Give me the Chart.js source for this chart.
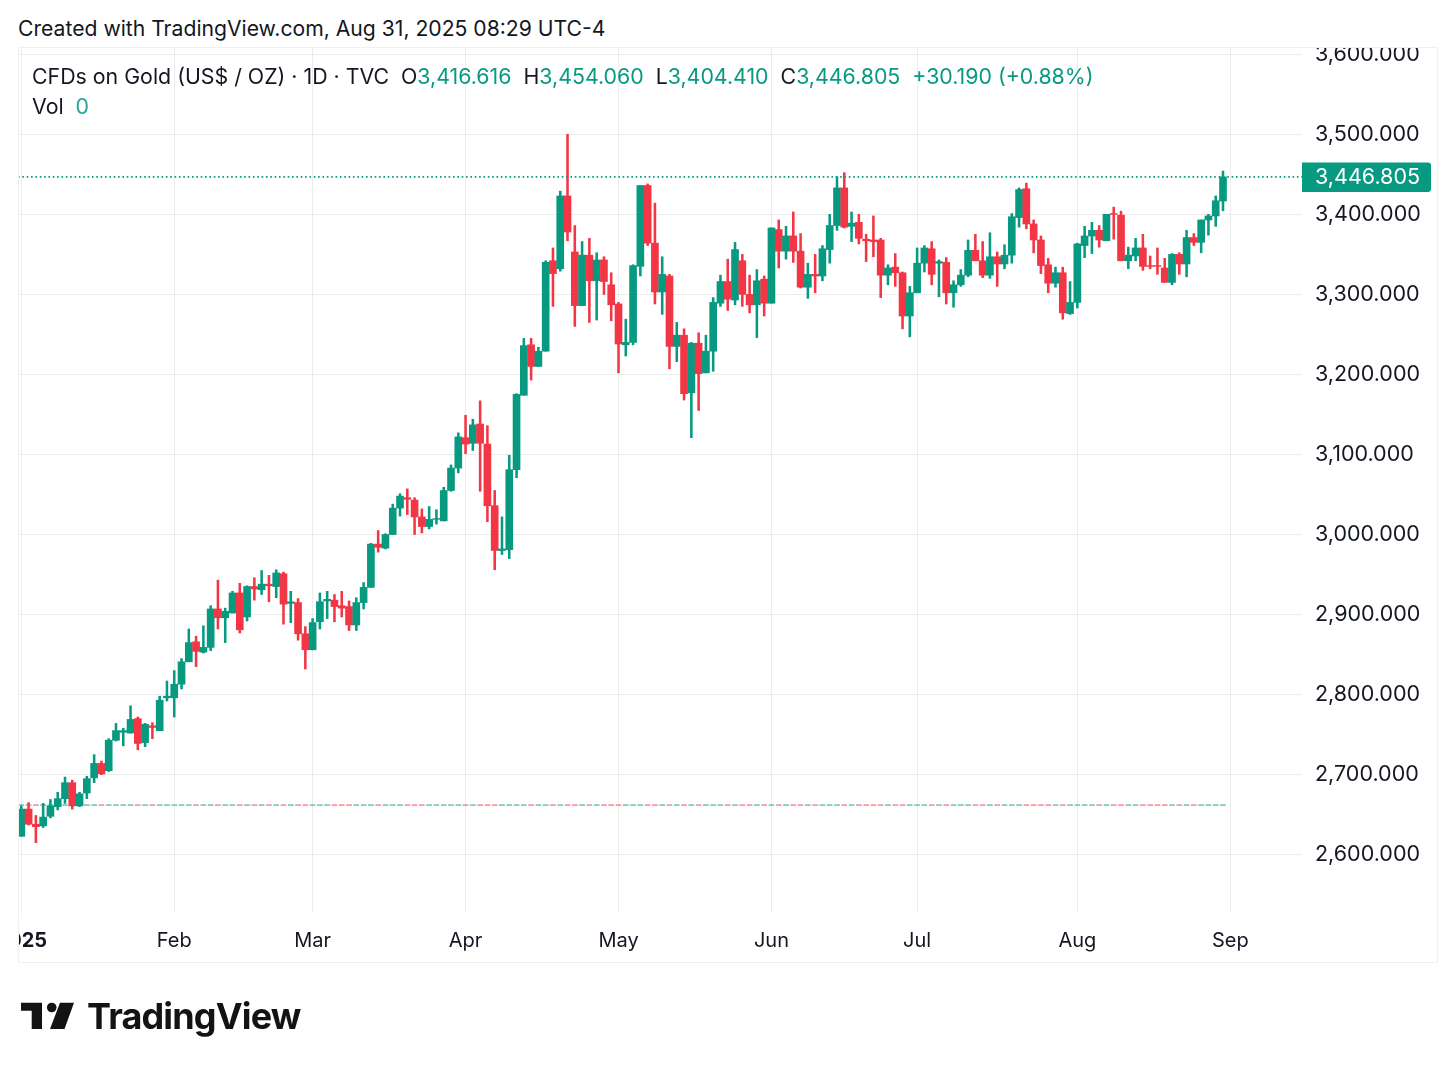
<!DOCTYPE html>
<html><head><meta charset="utf-8">
<script src="https://cdn.jsdelivr.net/npm/chart.js@4/dist/chart.umd.min.js"></script>
<style>
html,body{margin:0;padding:0;background:#fff;width:1456px;height:1070px;overflow:hidden;font-family:Inter,sans-serif;color:#131722}
#c{position:absolute;left:0;top:0}
.t{position:absolute;white-space:pre;line-height:1}
.g{color:#089981}
#maskTop{position:absolute;left:0;top:0;width:1456px;height:47px;background:#fff}
#maskLeft{position:absolute;left:0;top:47px;width:18px;height:960px;background:#fff}
#frame{position:absolute;left:17.5px;top:47px;width:1420px;height:916px;border:1px solid #f0f0f0;box-sizing:border-box;pointer-events:none}
</style></head><body>
<canvas id="c" width="1456" height="1070"></canvas>
<div id="maskTop"></div><div id="maskLeft"></div><div id="frame"></div>
<div class="t" id="created" style="left:18px;top:18px;font-size:21.15px">Created with TradingView.com, Aug 31, 2025 08:29 UTC-4</div>
<div class="t" id="legend" style="left:32px;top:66px;font-size:21.33px">CFDs on Gold (US$ / OZ) · 1D · TVC  O<span class="g">3,416.616</span>  H<span class="g">3,454.060</span>  L<span class="g">3,404.410</span>  C<span class="g">3,446.805</span>  <span class="g">+30.190 (+0.88%)</span></div>
<div class="t" style="left:32px;top:96px;font-size:21.33px">Vol  <span style="color:#26a69a">0</span></div>
<svg style="position:absolute;left:0;top:990px" width="90" height="50" viewBox="0 990 90 50"><path fill="#131313" d="M21 1002.7H42V1029H31.7V1010.7H21Z M60 1002.7H74L64.5 1029H50Z"/><circle cx="51.7" cy="1007.5" r="4.8" fill="#131313"/></svg>
<div class="t" style="left:87px;top:998px;font-size:36px;font-weight:700;letter-spacing:-0.85px;color:#131313">TradingView</div>
<script>
const opens=[2623,2657,2638,2636,2648,2660,2670,2690,2661,2677,2696,2714,2705,2743,2753,2752,2770,2740,2761,2755,2796,2796,2813,2841,2866,2853,2859,2907,2896,2902,2927,2897,2935,2931,2938,2935,2951,2914,2915,2876,2856,2891,2917,2918,2911,2910,2887,2915,2934,2988,2983,3000,3033,3046,3043,3022,3010,3019,3017,3055,3083,3121,3114,3138,3113,3036,2980,2981,3081,3174,3237,3210,3229,3342,3332,3423,3353,3286,3349,3317,3343,3312,3288,3237,3240,3335,3436,3364,3303,3323,3235,3249,3177,3239,3202,3229,3289,3316,3293,3342,3300,3287,3319,3289,3381,3354,3373,3354,3309,3325,3323,3356,3386,3433,3385,3390,3369,3368,3368,3324,3334,3327,3273,3302,3339,3357,3339,3340,3302,3312,3324,3355,3342,3324,3347,3338,3349,3396,3432,3388,3368,3337,3314,3327,3276,3290,3361,3373,3380,3367,3401,3399,3342,3348,3358,3336,3336,3333,3315,3350,3338,3371,3365,3393,3398,3416.616];
const highs=[2661,2665,2649,2664,2669,2678,2697,2693,2678,2698,2725,2717,2745,2764,2758,2786,2772,2764,2765,2798,2817,2830,2845,2882,2873,2886,2911,2943,2908,2929,2939,2936,2946,2955,2949,2956,2953,2929,2920,2885,2895,2927,2929,2925,2929,2917,2921,2940,2989,3005,3001,3038,3051,3057,3046,3032,3035,3031,3059,3087,3127,3149,3144,3167,3136,3055,3022,3099,3176,3245,3245,3234,3342,3358,3429,3500,3386,3366,3370,3352,3347,3327,3290,3269,3337,3436,3438,3414,3347,3325,3265,3257,3240,3252,3249,3296,3324,3344,3365,3350,3324,3331,3323,3383,3393,3385,3403,3376,3339,3350,3361,3400,3447,3452,3403,3400,3375,3398,3370,3337,3351,3328,3310,3358,3361,3366,3343,3346,3317,3331,3368,3375,3366,3377,3353,3362,3401,3433,3439,3393,3373,3345,3334,3334,3316,3364,3385,3390,3386,3400,3409,3404,3359,3370,3375,3348,3358,3345,3351,3352,3380,3376,3393,3400,3423,3454.06];
const lows=[2623,2637,2615,2634,2646,2656,2664,2657,2660,2670,2690,2700,2704,2742,2736,2752,2731,2735,2745,2755,2792,2772,2807,2841,2835,2852,2855,2882,2865,2902,2877,2892,2918,2925,2916,2921,2888,2890,2868,2832,2856,2882,2895,2891,2897,2880,2880,2907,2934,2978,2982,3000,3023,3025,3000,3002,3007,3013,3017,3054,3077,3101,3105,3054,3016,2956,2975,2970,3071,3174,3193,3210,3229,3285,3329,3367,3260,3286,3265,3268,3300,3267,3202,3223,3237,3323,3361,3288,3275,3207,3216,3168,3121,3155,3202,3204,3285,3280,3287,3285,3277,3246,3273,3289,3333,3344,3340,3308,3295,3302,3317,3339,3380,3383,3366,3363,3341,3347,3296,3312,3310,3257,3247,3302,3328,3312,3297,3288,3284,3310,3322,3342,3321,3320,3310,3332,3339,3384,3382,3352,3326,3302,3309,3269,3275,3283,3346,3351,3359,3367,3369,3342,3332,3342,3330,3332,3325,3315,3312,3325,3322,3361,3352,3374,3385,3404.41];
const closes=[2657,2638,2635,2647,2661,2670,2690,2661,2676,2695,2714,2701,2743,2755,2755,2769,2739,2763,2759,2793,2798,2813,2841,2865,2854,2859,2907,2896,2904,2927,2881,2935,2932,2938,2936,2952,2913,2916,2876,2856,2890,2916,2919,2910,2908,2887,2915,2934,2988,2984,3000,3033,3048,3044,3022,3010,3019,3020,3055,3083,3122,3113,3137,3114,3036,2980,2982,3081,3175,3236,3210,3229,3340,3326,3423,3378,3286,3349,3317,3343,3316,3287,3238,3240,3336,3436,3364,3303,3325,3235,3249,3176,3239,3201,3229,3290,3316,3294,3356,3300,3287,3317,3289,3383,3354,3373,3354,3309,3325,3323,3357,3386,3433,3384,3389,3370,3367,3366,3324,3333,3327,3273,3302,3339,3358,3325,3341,3302,3312,3324,3355,3342,3324,3347,3338,3349,3397,3431,3388,3368,3336,3314,3327,3277,3290,3363,3373,3380,3368,3400,3400,3342,3349,3358,3335,3335,3335,3315,3350,3338,3371,3365,3393,3398,3417,3446.805];
const xTickPositions=[0,21,40,61,82,103,123,145,166];
const xTickLabels=['2025','Feb','Mar','Apr','May','Jun','Jul','Aug','Sep'];
const yTickValues=[2600,2700,2800,2900,3000,3100,3200,3300,3400,3500,3600];
const lastPrice=3446.805;
const baseline=2662;

const UP='#089981',DOWN='#F23645';
const AREA={left:18,right:1302,top:47,bottom:913};
const AXIS_H=50;
const BAR0=21.3,STEP=7.283,Y3500=134.3,YPX=0.80044;
const xMin=(AREA.left-BAR0)/STEP,xMax=(AREA.right-BAR0)/STEP;
const yMax=3500+(Y3500-AREA.top)/YPX,yMin=3500-(AREA.bottom-Y3500)/YPX;
const isUp=closes.map((c,i)=>c>=opens[i]);
const colors=isUp.map(u=>u?UP:DOWN);
const baseColors=isUp.map(u=>u?'rgba(8,153,129,0.5)':'rgba(242,54,69,0.5)');
const fmt=new Intl.NumberFormat('en-US',{minimumFractionDigits:3,maximumFractionDigits:3});

const priceTag={id:'priceTag',afterDraw(ch){
  const c=ch.ctx,y=ch.scales.y.getPixelForValue(lastPrice);
  c.save();c.fillStyle=UP;c.beginPath();c.roundRect(1302,y-14.5,129,29.5,[0,3,3,0]);c.fill();
  c.fillStyle='#fff';c.font='21.5px Inter, sans-serif';c.textAlign='left';c.textBaseline='middle';
  c.fillText(fmt.format(lastPrice),1315,y+0.5);c.restore();
}};

new Chart(document.getElementById('c'),{
  type:'bar',
  plugins:[priceTag],
  data:{datasets:[
    {type:'line',order:0,data:[{x:xMin,y:lastPrice},{x:xMax,y:lastPrice}],borderColor:UP,borderWidth:1.9,borderDash:[1.6,2.75],pointRadius:0,fill:false},
    {order:1,grouped:false,barThickness:7,data:opens.map((o,i)=>({x:i,y:[o,closes[i]]})),backgroundColor:colors,borderWidth:0},
    {order:2,grouped:false,barThickness:1.9,data:lows.map((l,i)=>({x:i,y:[l,highs[i]]})),backgroundColor:colors,borderWidth:0},
    {order:3,grouped:false,barThickness:5,data:opens.map((o,i)=>({x:i,y:[baseline-0.7,baseline+0.7]})),backgroundColor:baseColors,borderWidth:0}
  ]},
  options:{
    responsive:false,animation:false,devicePixelRatio:1,
    layout:{padding:{left:AREA.left,top:AREA.top,right:0,bottom:1070-AREA.bottom-AXIS_H}},
    plugins:{legend:{display:false},tooltip:{enabled:false},title:{display:false}},
    scales:{
      x:{type:'linear',min:xMin,max:xMax,offset:false,
        afterBuildTicks(a){a.ticks=xTickPositions.map(v=>({value:v}));},
        afterFit(a){a.height=AXIS_H;a.paddingLeft=0;a.paddingRight=0;},
        border:{display:false},
        grid:{offset:false,color:'#ececec',lineWidth:1,drawTicks:false},
        ticks:{autoSkip:false,maxRotation:0,minRotation:0,padding:16,color:'#131722',
          font:c=>({family:'Inter, sans-serif',size:20,weight:c.index===0?'700':'400'}),
          callback:(v)=>xTickLabels[xTickPositions.indexOf(v)]||''}},
      y:{position:'right',min:yMin,max:yMax,
        afterBuildTicks(a){a.ticks=yTickValues.map(v=>({value:v}));},
        afterFit(a){a.width=1456-AREA.right;a.paddingTop=0;a.paddingBottom=0;},
        border:{display:false},
        grid:{color:'#ececec',lineWidth:1,drawTicks:false},
        ticks:{padding:13,color:'#131722',font:{family:'Inter, sans-serif',size:21.5},callback:v=>fmt.format(v)}}
    }
  }
});
</script>
</body></html>
